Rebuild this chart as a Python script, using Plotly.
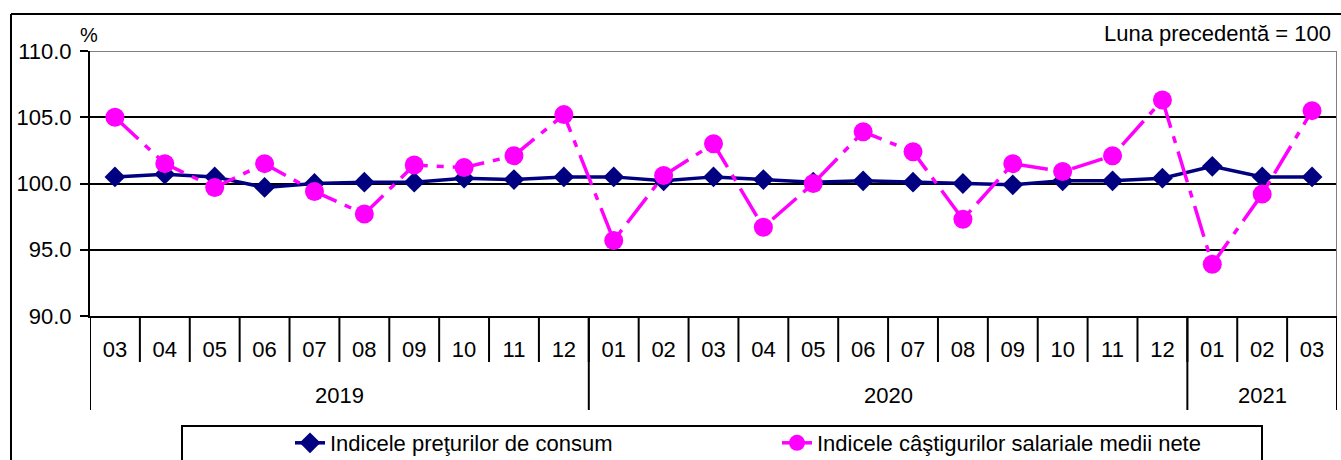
import plotly.graph_objects as go

# ---- data ----
months = ["03", "04", "05", "06", "07", "08", "09", "10", "11", "12",
          "01", "02", "03", "04", "05", "06", "07", "08", "09", "10", "11", "12",
          "01", "02", "03"]
years = ["2019"] * 10 + ["2020"] * 12 + ["2021"] * 3
cpi = [100.5, 100.7, 100.5, 99.7, 100.0, 100.1, 100.1, 100.4, 100.3, 100.5,
       100.5, 100.2, 100.5, 100.3, 100.1, 100.2, 100.1, 100.0, 99.9, 100.2, 100.2, 100.4,
       101.3, 100.5, 100.5]
wages = [105.0, 101.5, 99.7, 101.5, 99.4, 97.7, 101.4, 101.2, 102.1, 105.2,
         95.7, 100.6, 103.0, 96.7, 100.0, 103.9, 102.4, 97.3, 101.5, 100.9, 102.1, 106.3,
         93.9, 99.2, 105.5]
y_ticks = [90, 95, 100, 105, 110]
name_cpi = "Indicele preţurilor de consum"
name_wages = "Indicele câştigurilor salariale medii nete"
note_text = "Luna precedentă = 100"
unit_text = "%"

FONT = "Arial, Liberation Sans, sans-serif"
FS = 22
W, H = 1341, 460
ML, MR, MT, MB = 90, 4, 51, 144
PW, PH = W - ML - MR, H - MT - MB


def px_x(X):
    return (X - ML) / PW


def px_y(Y):
    return (H - MB - Y) / PH


n = len(months)
x = list(range(n))

fig = go.Figure()
fig.add_trace(go.Scatter(
    x=x, y=cpi, name=name_cpi, mode="lines+markers",
    line=dict(color="#000080", width=3.5),
    marker=dict(symbol="diamond", size=16, color="#000080"),
))
fig.add_trace(go.Scatter(
    x=x, y=wages, name=name_wages, mode="lines+markers",
    line=dict(color="#FF00FF", width=3.5, dash="32px,9px,7px,9px"),
    marker=dict(symbol="circle", size=19, color="#FF00FF"),
))

shapes = []
# plot area top / right border (gray)
shapes.append(dict(type="line", xref="x", yref="y", x0=-0.5, x1=n - 0.5, y0=110, y1=110,
                   line=dict(color="#808080", width=2), layer="above"))
shapes.append(dict(type="line", xref="x", yref="y", x0=n - 0.5, x1=n - 0.5, y0=90, y1=110,
                   line=dict(color="#808080", width=2), layer="above"))
# month separators
for b in range(n + 1):
    shapes.append(dict(type="line", xref="x", yref="paper", x0=b - 0.5, x1=b - 0.5,
                       y0=0, y1=px_y(362), line=dict(color="black", width=2)))
# year groups
groups = []
start = 0
for i in range(1, n + 1):
    if i == n or years[i] != years[start]:
        groups.append((years[start], start, i - 1))
        start = i
bounds = sorted(set([g[1] - 0.5 for g in groups] + [g[2] + 0.5 for g in groups]))
for b in bounds:
    shapes.append(dict(type="line", xref="x", yref="paper", x0=b, x1=b,
                       y0=0, y1=px_y(410), line=dict(color="black", width=2)))
# outer frame
shapes.append(dict(type="line", xref="paper", yref="paper", x0=px_x(11), x1=px_x(1345),
                   y0=px_y(14), y1=px_y(14), line=dict(color="black", width=2)))
shapes.append(dict(type="line", xref="paper", yref="paper", x0=px_x(11), x1=px_x(11),
                   y0=px_y(14), y1=px_y(470), line=dict(color="black", width=2)))
# legend box
shapes.append(dict(type="rect", xref="paper", yref="paper", x0=px_x(182), x1=px_x(1262),
                   y0=px_y(426), y1=px_y(480), line=dict(color="black", width=2),
                   fillcolor="white"))

annotations = []
for yr, s, e in groups:
    annotations.append(dict(x=(s + e) / 2, y=px_y(395), xref="x", yref="paper", text=yr,
                            showarrow=False, font=dict(size=FS, color="black", family=FONT),
                            xanchor="center", yanchor="middle"))
annotations.append(dict(x=px_x(89), y=px_y(35), xref="paper", yref="paper", text=unit_text,
                        showarrow=False, font=dict(size=FS - 2, color="black", family=FONT),
                        xanchor="center", yanchor="middle"))
annotations.append(dict(x=px_x(1333), y=px_y(33), xref="paper", yref="paper", text=note_text,
                        showarrow=False, font=dict(size=FS, color="black", family=FONT),
                        xanchor="right", yanchor="middle"))

fig.update_layout(
    width=W, height=H,
    margin=dict(l=ML, r=MR, t=MT, b=MB, pad=0, autoexpand=False),
    paper_bgcolor="white", plot_bgcolor="white",
    font=dict(family=FONT, size=FS, color="black"),
    showlegend=True,
    legend=dict(orientation="h", x=px_x(290), xanchor="left", y=px_y(422), yanchor="top",
                bgcolor="rgba(0,0,0,0)", borderwidth=0, font=dict(size=FS, family=FONT),
                entrywidth=442, entrywidthmode="pixels", itemclick=False),
    shapes=shapes,
    annotations=annotations,
    xaxis=dict(range=[-0.5, n - 0.5], tickmode="array", tickvals=x, ticktext=months,
               showgrid=False, zeroline=False, showline=True, linecolor="black", linewidth=2,
               ticks="", tickfont=dict(size=FS, color="black", family=FONT),
               ticklabelstandoff=13, fixedrange=True, automargin=False),
    yaxis=dict(range=[90, 110], tickmode="array", tickvals=y_ticks, tickformat=".1f",
               showgrid=True, gridcolor="black", gridwidth=2, zeroline=False,
               showline=True, linecolor="black", linewidth=2,
               ticks="outside", ticklen=8, tickwidth=2, tickcolor="black",
               tickfont=dict(size=FS, color="black", family=FONT),
               ticklabelstandoff=4, fixedrange=True, automargin=False),
)

fig.write_html("out.html", post_script="document.body.style.margin='0';",
               config={"displayModeBar": False})
